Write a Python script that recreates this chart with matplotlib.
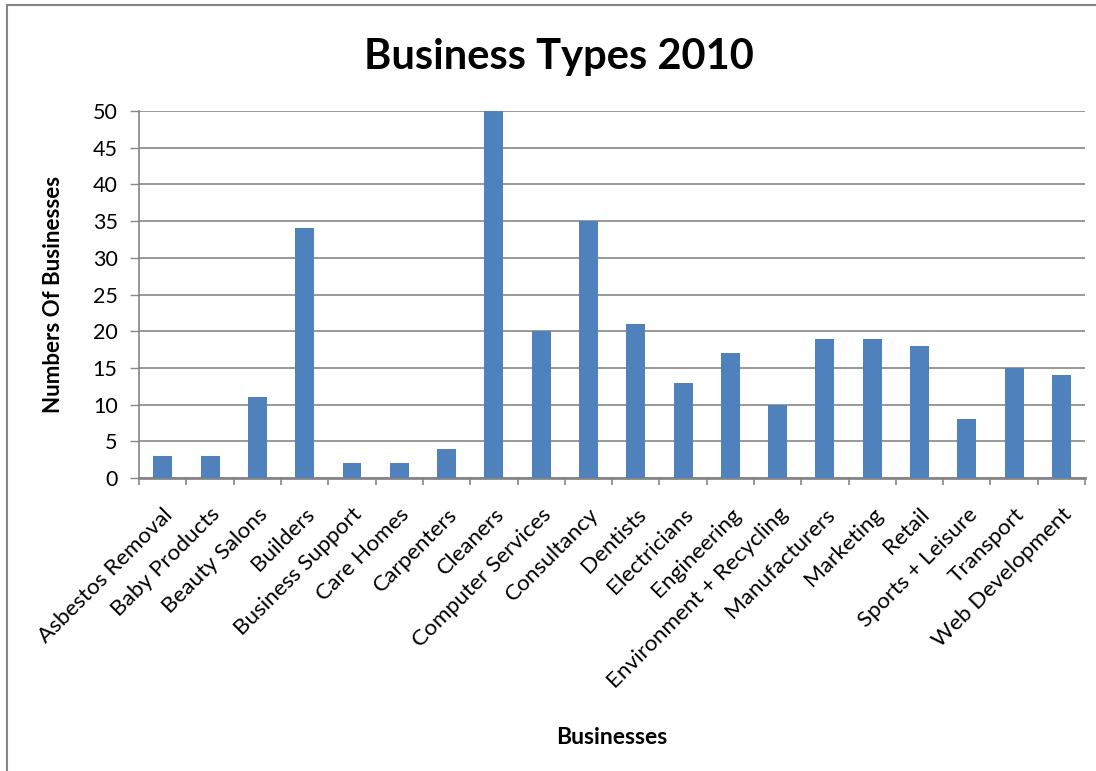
import numpy as np
import matplotlib.pyplot as plt
from matplotlib.lines import Line2D

categorias = ['Asbestos Removal', 'Baby Products', 'Beauty Salons', 'Builders',
              'Business Support', 'Care Homes', 'Carpenters', 'Cleaners',
              'Computer Services', 'Consultancy', 'Dentists', 'Electricians',
              'Engineering', 'Environment + Recycling', 'Manufacturers',
              'Marketing', 'Retail', 'Sports + Leisure', 'Transport',
              'Web Development']
valores = [3, 3, 11, 34, 2, 2, 4, 50, 20, 35, 21, 13, 17, 10, 19, 19, 18, 8, 15, 14]
yticks = [0, 5, 10, 15, 20, 25, 30, 35, 40, 45, 50]

plt.rcParams['font.family'] = ['Lato', 'DejaVu Sans']
cinza = '#868686'

fig = plt.figure(figsize=(10.96, 7.71), dpi=100)
ax = fig.add_axes([0.127, 0.380, 0.863, 0.476])

x = np.arange(len(categorias))
ax.bar(x, valores, width=0.4, color='#4F81BD', zorder=3)

# Personalizando o gráfico
ax.set_xlim(-0.5, len(categorias) - 0.5)
ax.set_ylim(0, 50)
ax.set_yticks(yticks)
ax.tick_params(axis='y', labelsize=15.5, length=6.5, width=1, color=cinza, pad=9)
ax.yaxis.grid(True, color=cinza, linewidth=1.2, zorder=0)

ax.set_xticks(x)
ax.set_xticklabels(categorias, rotation=45, ha='right', rotation_mode='anchor',
                   fontsize=16.2)
ax.tick_params(axis='x', which='major', length=0, pad=19)
ax.set_xticks(np.arange(-0.5, len(categorias)), minor=True)
ax.tick_params(axis='x', which='minor', length=5, width=1.2, color=cinza)

for lado in ['top', 'right']:
    ax.spines[lado].set_visible(False)
ax.spines['left'].set_color(cinza)
ax.spines['left'].set_linewidth(1.2)
ax.spines['bottom'].set_color(cinza)
ax.spines['bottom'].set_linewidth(2)

fig.text(0.51, 0.9105, 'Business Types 2010', fontsize=30, fontweight='bold',
         ha='center', va='baseline')
ax.set_ylabel('Numbers Of Businesses', fontsize=16, fontweight='bold')
ax.yaxis.set_label_coords(-0.080, 0.5)
fig.text(0.558, 0.035, 'Businesses', fontsize=16.5, fontweight='bold', ha='center')

# moldura do gráfico (só topo e esquerda visíveis)
fig.add_artist(Line2D([0.0065, 1.0], [0.993, 0.993], transform=fig.transFigure,
                      color=cinza, linewidth=1.5))
fig.add_artist(Line2D([0.0065, 0.0065], [0.0, 0.993], transform=fig.transFigure,
                      color=cinza, linewidth=1.5))

fig.savefig('out.png', dpi=100)
